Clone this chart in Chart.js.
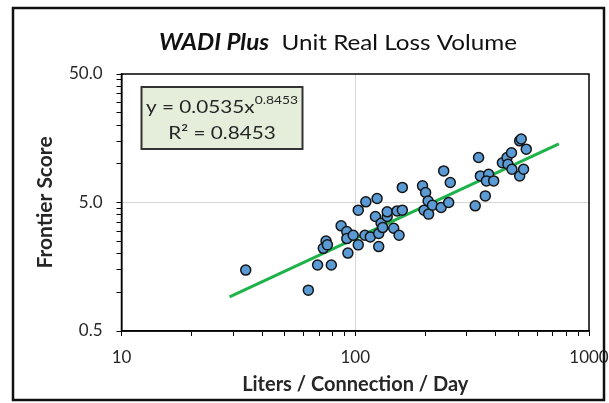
<html>
<head>
<script type="text/javascript" src="https://cdn.jsdelivr.net/npm/chart.js@4.4.0/dist/chart.umd.min.js"></script>
<style>
  body { margin: 0; background: #fff; }
</style>
</head>
<body>
<canvas id="myChart" width="609" height="403"></canvas>
<script type="text/javascript">
// liters / connection / day vs frontier score
var lcdX = [34, 63, 69, 79, 73, 75, 76, 87, 92, 92, 93, 98, 103, 103, 111, 110, 116, 124, 122, 129,
  126, 126, 131, 137, 137, 146, 151, 154, 159, 159, 194, 200, 197, 206, 205, 214, 233, 239, 251, 255,
  326, 337, 343, 360, 372, 364, 391, 426, 446, 466, 450, 468, 505, 525, 505, 513, 539];
var scoreY = [1.49, 1.04, 1.63, 1.63, 2.20, 2.51, 2.34, 3.29, 2.97, 2.62, 2.02, 2.78, 2.34, 4.36, 5.06, 2.78, 2.70, 5.37, 3.89, 3.45,
  2.27, 2.87, 3.19, 3.89, 4.23, 3.15, 4.30, 2.78, 6.55, 4.36, 6.74, 5.98, 4.36, 4.06, 5.14, 4.76, 4.57, 8.81, 5.0, 7.16,
  4.71, 11.2, 8.05, 5.63, 8.30, 7.36, 7.36, 10.2, 11.2, 12.2, 9.93, 9.08, 8.05, 9.08, 15.1, 15.6, 13.0];

// power trendline end points
var trendX = [29, 743];
var trendY = [0.92, 14.3];

var xTicks = [10, 20, 30, 40, 50, 60, 70, 80, 90, 100, 200, 300, 400, 500, 600, 700, 800, 900, 1000];
var yTicks = [0.5, 1, 1.5, 2, 2.5, 3, 3.5, 4, 4.5, 5, 10, 15, 20, 25, 30, 35, 40, 45, 50];
var xLabels = [10, 100, 1000];
var yLabels = [0.5, 5, 50];

var eqMain = "y = 0.0535x";
var eqPow = "0.8453";
var eqR2 = "R\u00B2 = 0.8453";

var FONT = "Lato";
var TXT = "#262626";

var scatterPts = lcdX.map(function (x, i) { return {x: x, y: scoreY[i]}; });
var trendPts = trendX.map(function (x, i) { return {x: x, y: trendY[i]}; });

var extras = {
  id: "extras",
  beforeDraw: function (chart) {
    var ctx = chart.ctx;
    ctx.save();
    ctx.fillStyle = "#fff";
    ctx.fillRect(0, 0, chart.width, chart.height);
    ctx.restore();
  },
  afterDraw: function (chart) {
    var ctx = chart.ctx, a = chart.chartArea;
    ctx.save();
    // plot border
    ctx.strokeStyle = "#000";
    ctx.lineWidth = 1.5;
    ctx.strokeRect(a.left, a.top, a.right - a.left, a.bottom - a.top);

    // outer frame
    ctx.strokeStyle = "#111";
    ctx.lineWidth = 2.5;
    ctx.strokeRect(13, 8, 591, 392);

    // title (slightly widened like the source)
    ctx.fillStyle = "#111";
    ctx.textBaseline = "middle";
    var t1 = "WADI Plus";
    var t2 = "  Unit Real Loss Volume";
    ctx.font = "italic bold 22px " + FONT;
    var w1 = ctx.measureText(t1).width;
    ctx.font = "22px " + FONT;
    var w2 = ctx.measureText(t2).width;
    var sx = 358 / (w1 + w2);
    ctx.save();
    ctx.translate(338 - 179, 42.5);
    ctx.scale(sx, 1);
    ctx.font = "italic bold 22px " + FONT;
    ctx.fillText(t1, 0, 0);
    ctx.font = "22px " + FONT;
    ctx.fillText(t2, w1, 0);
    ctx.restore();

    // equation box
    var bx = a.left + 20, by = a.top + 13, bw = 161, bh = 62;
    ctx.fillStyle = "#e4eedb";
    ctx.fillRect(bx, by, bw, bh);
    ctx.strokeStyle = "#333";
    ctx.lineWidth = 2;
    ctx.strokeRect(bx, by, bw, bh);
    ctx.fillStyle = TXT;
    ctx.font = "18px " + FONT;
    var m = ctx.measureText(eqMain).width;
    ctx.font = "12px " + FONT;
    var p = ctx.measureText(eqPow).width;
    var k = 152 / (m + p);
    ctx.save();
    ctx.translate(bx + bw / 2, by);
    ctx.scale(k, 1);
    ctx.textAlign = "left";
    ctx.font = "18px " + FONT;
    ctx.fillText(eqMain, -(m + p) / 2, 20);
    ctx.font = "12px " + FONT;
    ctx.fillText(eqPow, -(m + p) / 2 + m, 13);
    ctx.font = "18px " + FONT;
    ctx.textAlign = "center";
    ctx.fillText(eqR2, 0, 46);
    ctx.restore();
    ctx.restore();
  }
};

var canvas = document.getElementById("myChart");
var ctx = canvas.getContext("2d");
var myChart = new Chart(ctx, {
  type: "scatter",
  data: {
    datasets: [{
      label: "Frontier Score",
      data: scatterPts,
      backgroundColor: "#5b9bd5",
      borderColor: "#151515",
      borderWidth: 1.5,
      pointRadius: 5,
      order: 1
    }, {
      label: "Trend",
      type: "line",
      data: trendPts,
      showLine: true,
      borderColor: "#1db34a",
      borderWidth: 3,
      pointRadius: 0,
      fill: false,
      order: 2
    }]
  },
  plugins: [extras],
  options: {
    responsive: false,
    animation: false,
    events: [],
    layout: { padding: { top: 74, right: 20, bottom: 0, left: 0 } },
    plugins: { legend: { display: false }, tooltip: { enabled: false } },
    scales: {
      x: {
        type: "logarithmic",
        min: 10, max: 1000,
        afterBuildTicks: function (s) { s.ticks = xTicks.map(function (v) { return {value: v}; }); },
        afterFit: function (s) { s.height = 72; s.paddingLeft = 0; s.paddingRight = 0; },
        ticks: {
          autoSkip: false, maxRotation: 0, padding: 11, color: TXT,
          font: { family: FONT, size: 17 },
          callback: function (v) { return xLabels.indexOf(v) >= 0 ? String(v) : ""; }
        },
        grid: {
          color: function (c) { return c.tick && c.tick.value === 100 ? "#d6d6d6" : "rgba(0,0,0,0)"; },
          tickColor: "#000", tickLength: 5, lineWidth: 1
        },
        border: { display: true, color: "#000", width: 1.5 },
        title: {
          display: true, text: "Liters / Connection / Day", color: TXT,
          font: { family: FONT, size: 20, weight: "bold" },
          padding: { top: 0, bottom: 6 }
        }
      },
      y: {
        type: "logarithmic",
        min: 0.5, max: 50,
        afterBuildTicks: function (s) { s.ticks = yTicks.map(function (v) { return {value: v}; }); },
        afterFit: function (s) { s.width = 121.5; },
        ticks: {
          autoSkip: false, padding: 14, color: TXT,
          font: { family: FONT, size: 17 },
          callback: function (v) { return yLabels.indexOf(v) >= 0 ? v.toFixed(1) : ""; }
        },
        grid: {
          color: function (c) { return c.tick && c.tick.value === 5 ? "#d6d6d6" : "rgba(0,0,0,0)"; },
          tickColor: "#000", tickLength: 5, lineWidth: 1
        },
        border: { display: true, color: "#000", width: 1.5 },
        title: {
          display: true, text: "Frontier Score", color: TXT,
          font: { family: FONT, size: 21, weight: "bold" },
          padding: { top: 33, bottom: 0 }
        }
      }
    }
  }
});
</script>
</body>
</html>
